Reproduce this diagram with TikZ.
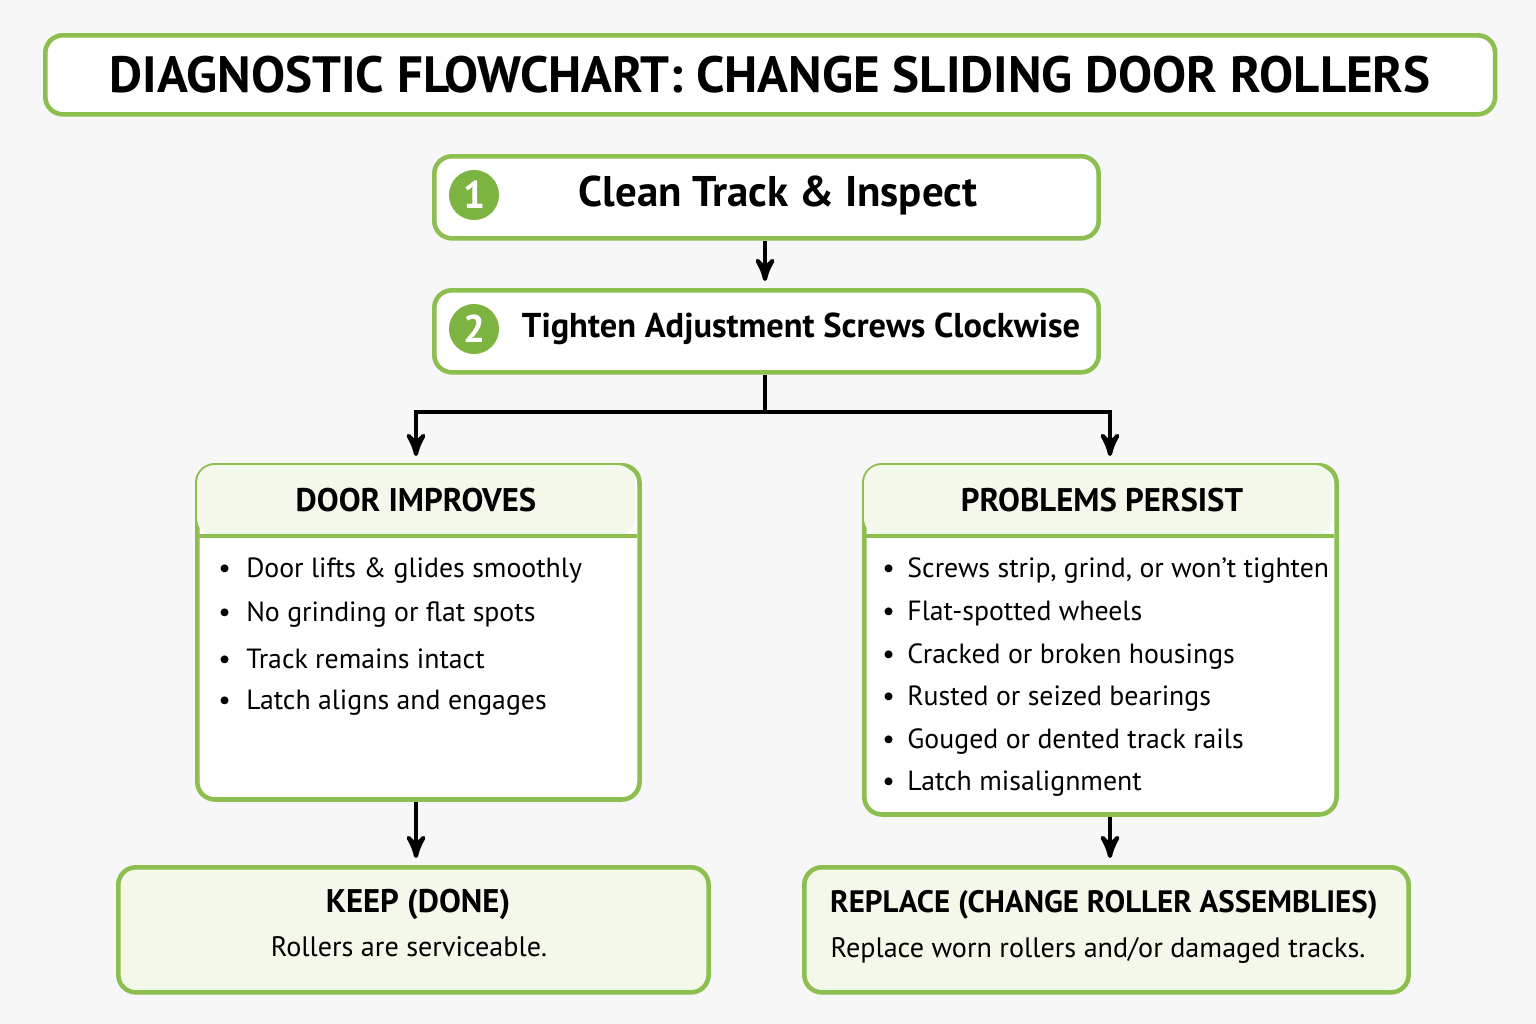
\documentclass[tikz,border=0pt]{standalone}
\usepackage{fontspec}
\setmainfont{PT Sans}
\usetikzlibrary{arrows,positioning}
\definecolor{leaf}{RGB}{140,190,80}
\definecolor{leafdark}{RGB}{125,180,65}
\definecolor{leaflight}{RGB}{243,248,234}
\tikzset{
  box/.style={draw=leaf, line width=1.3pt, rounded corners=5pt, fill=white, anchor=north west, inner sep=0pt},
  soft/.style={box, fill=leaflight},
  num/.style={circle, fill=leafdark, text=white, minimum size=0.5cm, inner sep=0pt, font=\fontsize{11}{11}\selectfont\bfseries},
  head/.style={font=\fontsize{9.3}{9.3}\selectfont\bfseries},
  item/.style={anchor=west, font=\fontsize{7.9}{7.9}\selectfont},
  flow/.style={->, >=stealth', line width=1.2pt, black}
}
\begin{document}
\begin{tikzpicture}[x=0.01cm,y=-0.01cm]
\useasboundingbox (0,0) rectangle (1536,1024);
\fill[white!97!black] (0,0) rectangle (1536,1024);
% title
\node[box, minimum width=14.49cm, minimum height=0.79cm] (title) at (43,33) {};
\node[font=\fontsize{14.5}{14.5}\selectfont\bfseries] at (title.center) {DIAGNOSTIC FLOWCHART: CHANGE SLIDING DOOR ROLLERS};
% steps
\node[box, minimum width=6.64cm, minimum height=0.82cm] (clean) at (432,154) {};
\node[num] (n1) at (474,195) {1};
\node[font=\fontsize{12.2}{12.2}\selectfont\bfseries] at (778,195) {Clean Track \& Inspect};
\node[box, minimum width=6.64cm, minimum height=0.82cm] (tighten) at (432,288) {};
\node[num] (n2) at (474,329) {2};
\node[font=\fontsize{9.8}{9.8}\selectfont\bfseries] at (801,329) {Tighten Adjustment Screws Clockwise};
% outcome boxes
\node[box, minimum width=4.42cm, minimum height=3.34cm] (good) at (195,463) {};
\fill[leaflight, rounded corners=5pt] (197,465) rectangle (635,536);
\draw[leaf, line width=1.3pt] (195,536) -- (637,536);
\node[head] (goodhead) at (416,500) {DOOR IMPROVES};
\node[box, minimum width=4.72cm, minimum height=3.49cm] (bad) at (862,463) {};
\fill[leaflight, rounded corners=5pt] (864,465) rectangle (1332,536);
\draw[leaf, line width=1.3pt] (862,536) -- (1334,536);
\node[head] (badhead) at (1102,500) {PROBLEMS PERSIST};
\foreach \t [count=\i] in {Door lifts \& glides smoothly, No grinding or flat spots, Track remains intact, Latch aligns and engages}
  \node[item] at (206,{571+44*(\i-1)}) {\textbullet\hspace{0.55em}\t};
\foreach \t [count=\i] in {{Screws strip, grind, or won’t tighten}, Flat-spotted wheels, Cracked or broken housings, Rusted or seized bearings, Gouged or dented track rails, Latch misalignment}
  \node[item] at (870,{571+42.6*(\i-1)}) {\textbullet\hspace{0.45em}\t};
% results
\node[soft, minimum width=5.9cm, minimum height=1.25cm] (keep) at (116,865) {};
\node[head] at (418,904) {KEEP (DONE)};
\node[font=\fontsize{8}{8}\selectfont] at (409,947) {Rollers are serviceable.};
\node[soft, minimum width=6.04cm, minimum height=1.25cm] (replace) at (802,865) {};
\node[font=\fontsize{8.8}{8.8}\selectfont\bfseries] at (1104,905) {REPLACE (CHANGE ROLLER ASSEMBLIES)};
\node[font=\fontsize{8}{8}\selectfont] at (1098,950) {Replace worn rollers and/or damaged tracks.};
% connectors
\coordinate (split) at (765,412);
\coordinate (lcol) at (416,412);
\coordinate (rcol) at (1110,412);
\draw[flow] (clean.south -| split) -- ([yshift=2pt]tighten.north -| split);
\draw[line width=1.2pt] (tighten.south -| split) -- (split);
\draw[flow] (split) -| ([yshift=2pt]good.north -| lcol);
\draw[flow] (split) -| ([yshift=2pt]bad.north -| rcol);
\draw[flow] (good.south -| lcol) -- ([yshift=2pt]keep.north -| lcol);
\draw[flow] (bad.south -| rcol) -- ([yshift=2pt]replace.north -| rcol);
\end{tikzpicture}
\end{document}
